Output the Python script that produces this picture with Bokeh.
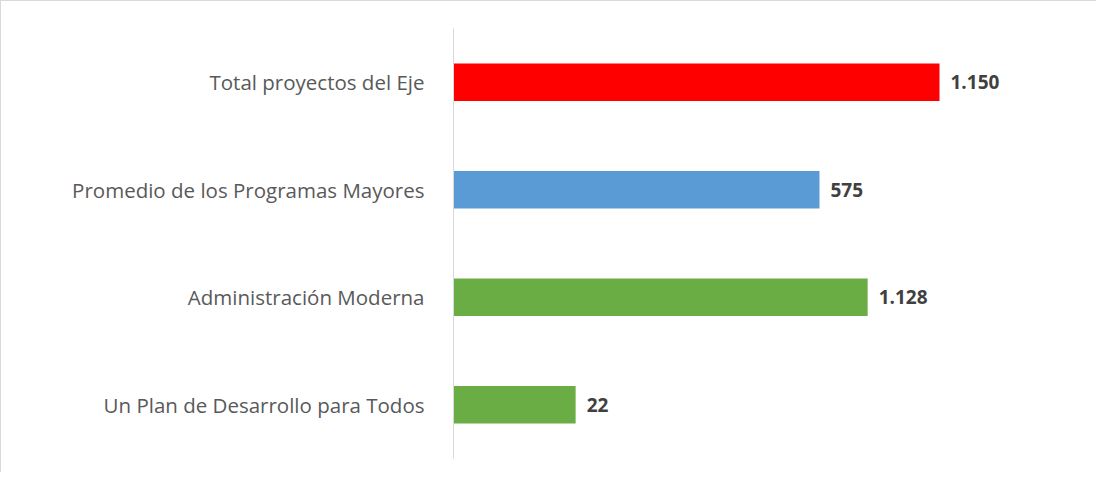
from bokeh.plotting import figure
from bokeh.models import ColumnDataSource, LabelSet, FactorRange, Range1d
from bokeh.core.properties import value
from bokeh.embed import file_html
from bokeh.resources import INLINE

# ---- data ----
categories = [
    "Total proyectos del Eje",
    "Promedio de los Programas Mayores",
    "Administración Moderna",
    "Un Plan de Desarrollo para Todos",
]
values = [1150, 575, 1128, 22]          # printed value labels
# bar extents as drawn in the original (not proportional to printed values),
# expressed on the same scale where the top bar equals 1150
bar_lengths = [1150, 866, 980, 289]
colors = ["#FF0000", "#5B9BD5", "#6AAD45", "#6AAD45"]


def fmt(v):
    return f"{v:,}".replace(",", ".")


labels = [fmt(v) for v in values]

source = ColumnDataSource(dict(cat=categories, length=bar_lengths,
                               label=labels, color=colors))

p = figure(
    width=1096, height=472,
    y_range=FactorRange(factors=list(reversed(categories))),
    x_range=Range1d(0, 1486),
    output_backend="svg", toolbar_location=None,
    min_border_left=452, min_border_right=16,
    min_border_top=27, min_border_bottom=15,
)
p.styles = {"border-top": "1px solid #D9D9D9", "border-left": "1px solid #D9D9D9"}

p.hbar(y="cat", right="length", left=0, height=0.35, source=source,
       fill_color="color", line_color=None)

p.add_layout(LabelSet(x="length", y="cat", text="label", source=source,
                      x_offset=11, text_baseline="middle", text_align="left",
                      text_font=value("Open Sans"), text_font_style="bold",
                      text_font_size="19px", text_color="#404040"))

p.xaxis.visible = False
p.xgrid.visible = False
p.ygrid.visible = False
p.outline_line_color = None

ax = p.yaxis[0]
ax.axis_line_color = "#D9D9D9"
ax.major_tick_line_color = None
ax.minor_tick_line_color = None
ax.major_label_standoff = 23
ax.major_label_text_font = "Open Sans"
ax.major_label_text_font_size = "20.5px"
ax.major_label_text_color = "#595959"

open("out.html", "w").write(file_html(p, INLINE))
